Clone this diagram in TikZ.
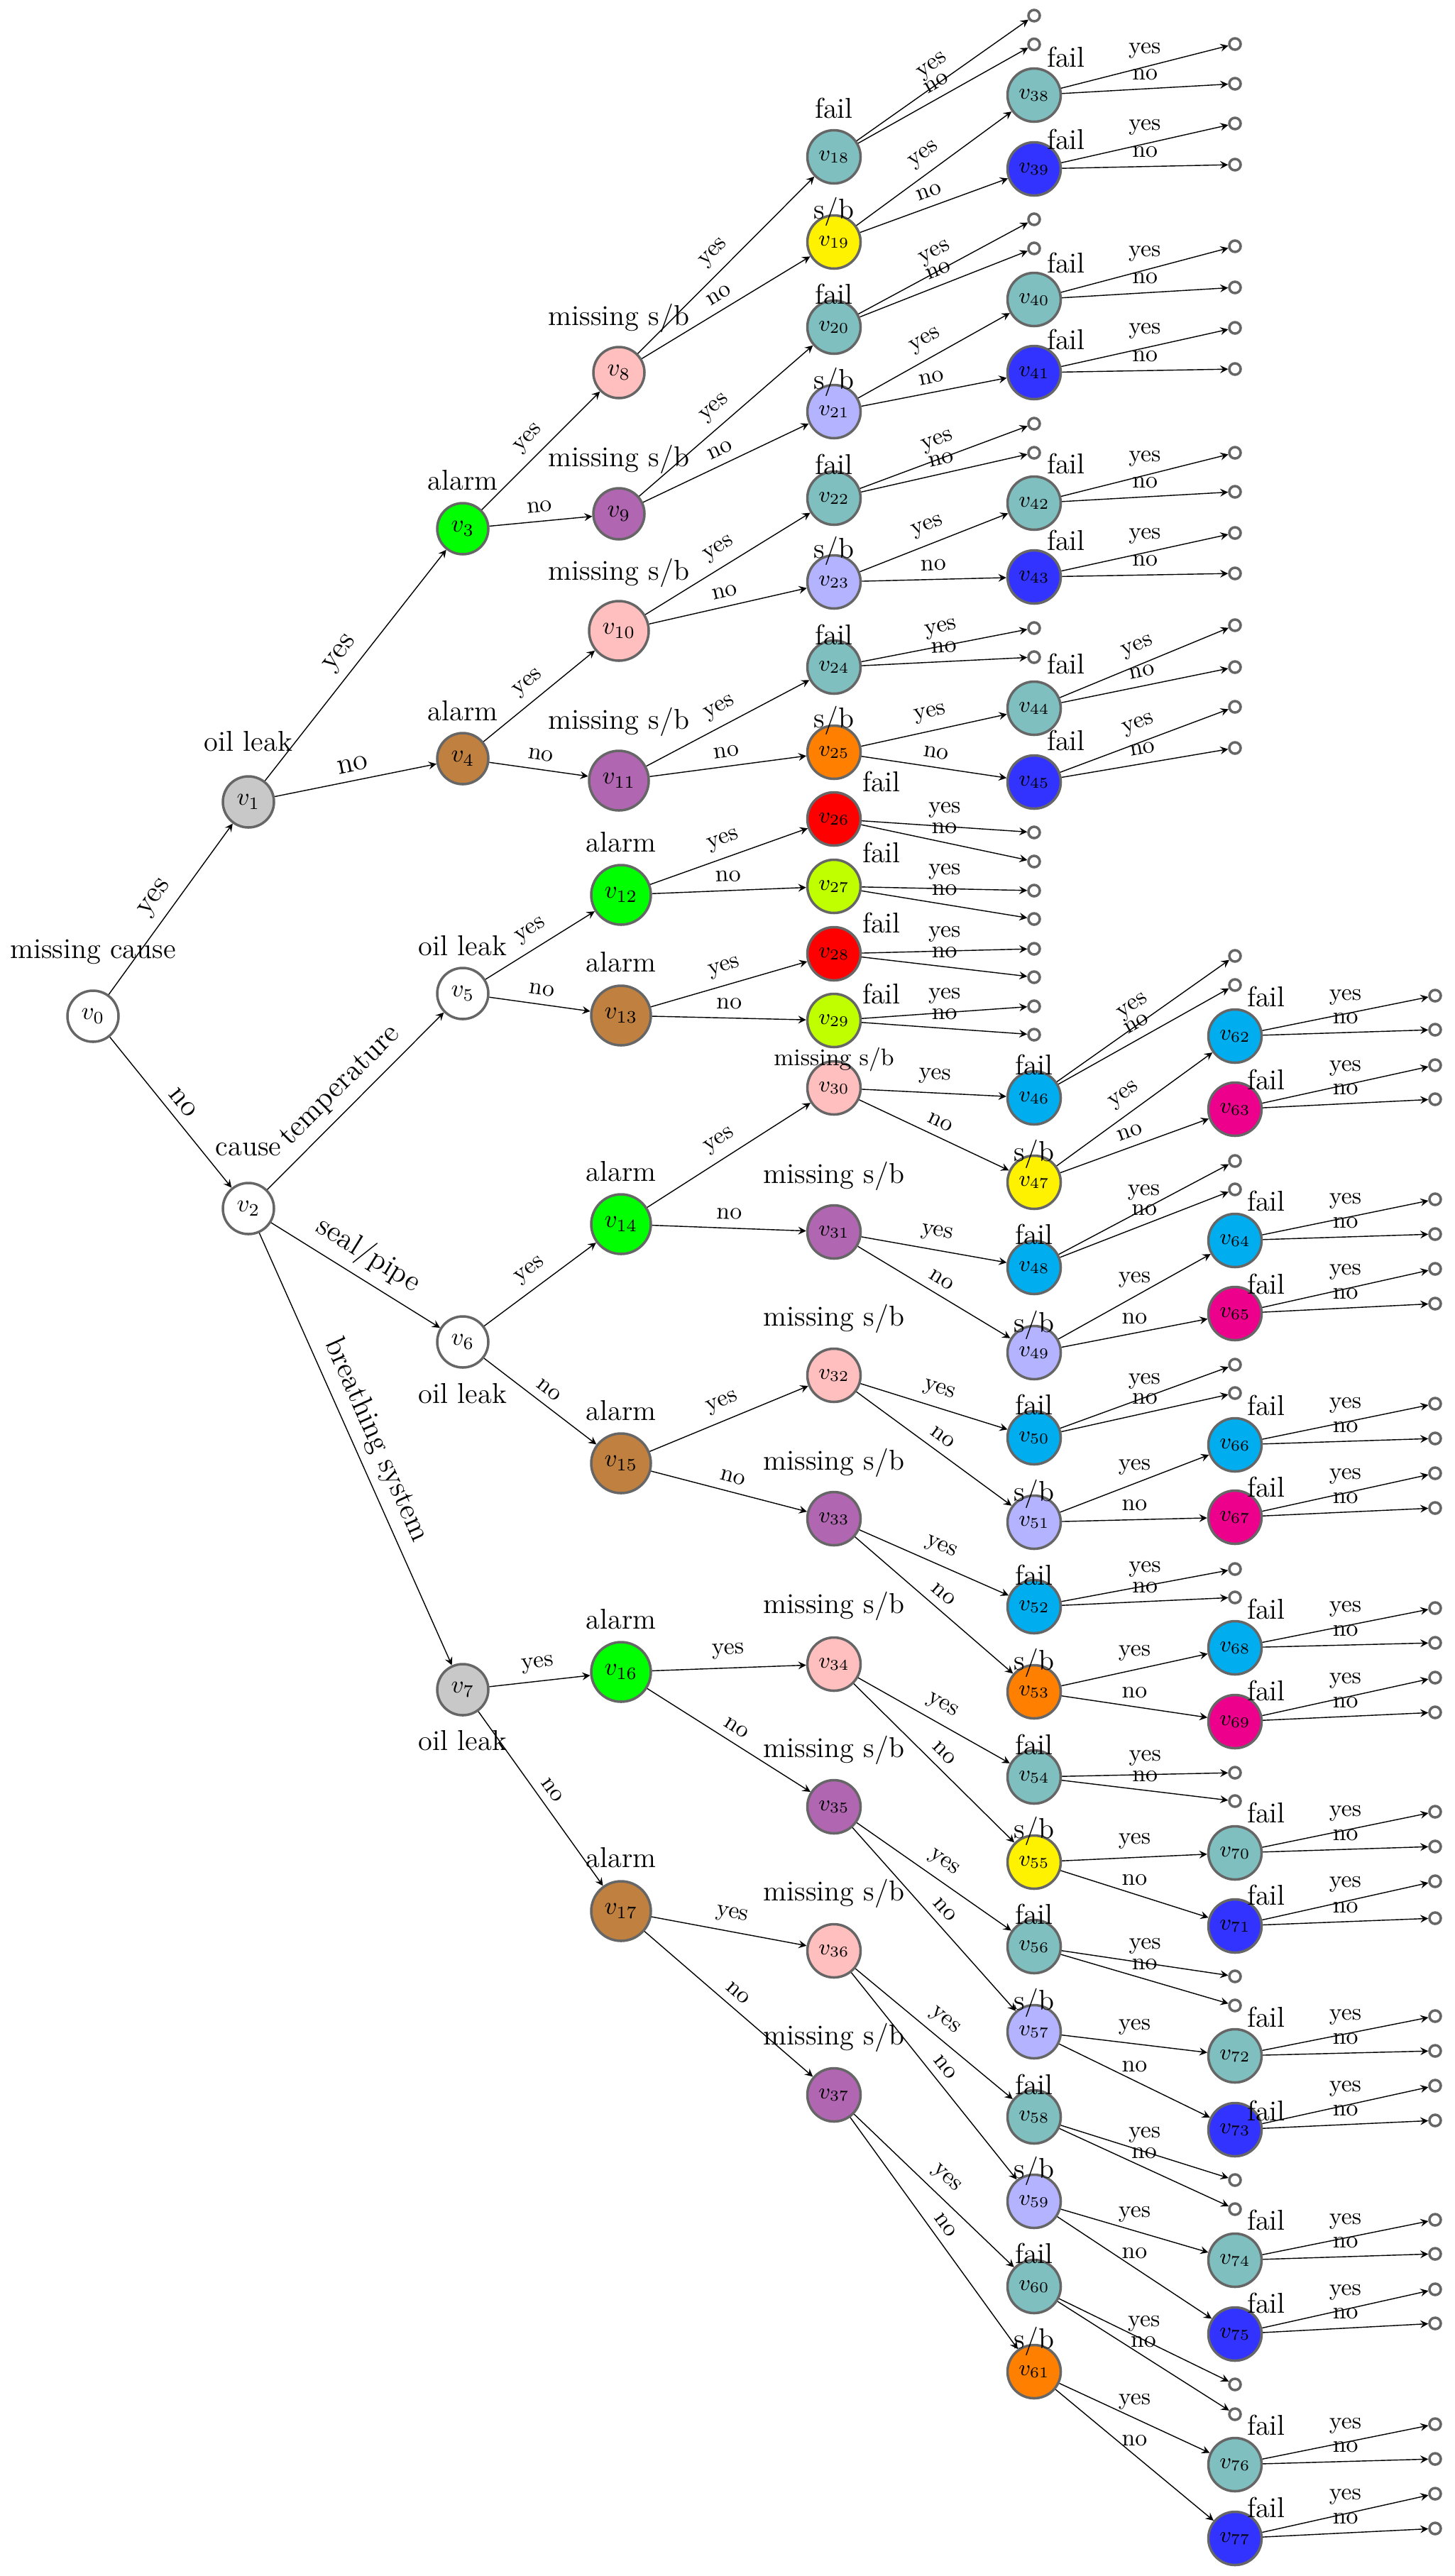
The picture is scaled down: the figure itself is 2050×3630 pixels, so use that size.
\documentclass[tikz,border=0pt]{standalone}
\usepackage{fontspec}
\usepackage{amsmath}
\usepackage{tikz}

\definecolor{cgray}{RGB}{200,200,200}
\definecolor{cgreen}{RGB}{0,255,0}
\definecolor{cbrown}{RGB}{191,128,64}
\definecolor{cpink}{RGB}{255,191,191}
\definecolor{cpurple}{RGB}{176,102,176}
\definecolor{cteal}{RGB}{128,191,191}
\definecolor{cyellow}{RGB}{255,242,0}
\definecolor{clav}{RGB}{179,179,255}
\definecolor{corange}{RGB}{255,128,0}
\definecolor{cred}{RGB}{255,0,0}
\definecolor{clime}{RGB}{191,255,0}
\definecolor{cblue}{RGB}{51,51,255}
\definecolor{ccyan}{RGB}{0,174,239}
\definecolor{cmag}{RGB}{236,0,140}

\begin{document}
\begin{tikzpicture}[
    x=0.1mm, y=-0.1mm,
    vtx/.style={circle, draw=black!60, line width=1pt, inner sep=0pt, minimum size=7.5mm, font=\fontsize{8.8}{10}\selectfont},
    vsmall/.style={minimum size=7.2mm, font=\fontsize{10}{12}\selectfont},
    vbig/.style={minimum size=8.4mm, font=\fontsize{10}{12}\selectfont},
    leaf/.style={circle, draw=black!60, line width=1pt, fill=white, inner sep=0pt, minimum size=1.6mm},
    ntag/.style={inner sep=1pt, font=\fontsize{11.5}{13}\selectfont},
    conn/.style={-stealth},
    elab/.style={above, font=\fontsize{9.6}{11}\selectfont},
    elabbig/.style={above, font=\fontsize{12}{14}\selectfont},
]
    \useasboundingbox (0,0) rectangle (2050,3630);
    \foreach \n/\x/\y/\c in {0/131/1432/white, 1/350/1130/cgray, 2/350/1703/white, 3/652/745/cgreen, 4/652/1069/cbrown,
        5/652/1400/white, 6/652/1891/white, 7/652/2381/cgray, 8/872/525/cpink, 9/872/724/cpurple}
        \node[vtx,vsmall,fill=\c] (v\n) at (\x,\y) {$v_{\n}$};
    \foreach \n/\x/\y/\c in {10/872/889/cpink, 11/872/1100/cpurple, 12/875/1261/cgreen, 13/875/1431/cbrown,
        14/875/1725/cgreen, 15/875/2062/cbrown, 16/875/2356/cgreen, 17/875/2693/cbrown}
        \node[vtx,vbig,fill=\c] (v\n) at (\x,\y) {$v_{\n}$};
    \foreach \n/\x/\y/\c in {18/1175/221/cteal, 19/1175/341/cyellow, 20/1175/461/cteal, 21/1175/580/clav,
        22/1175/702/cteal, 23/1175/820/clav, 24/1175/940/cteal, 25/1175/1060/corange, 26/1175/1154/cred,
        27/1175/1249/clime, 28/1175/1344/cred, 29/1175/1438/clime, 30/1175/1533/cpink, 31/1175/1736/cpurple,
        32/1175/1938/cpink, 33/1175/2140/cpurple, 34/1175/2345/cpink, 35/1175/2546/cpurple, 36/1175/2749/cpink,
        37/1175/2952/cpurple, 38/1457/134/cteal, 39/1457/238/cblue, 40/1457/422/cteal, 41/1457/525/cblue,
        42/1457/709/cteal, 43/1457/813/cblue, 44/1457/998/cteal, 45/1457/1102/cblue, 46/1457/1547/ccyan,
        47/1457/1666/cyellow, 48/1457/1786/ccyan, 49/1457/1906/clav, 50/1457/2026/ccyan, 51/1457/2145/clav,
        52/1457/2264/ccyan, 53/1457/2384/corange, 54/1457/2504/cteal, 55/1457/2624/cyellow, 56/1457/2743/cteal,
        57/1457/2863/clav, 58/1457/2983/cteal, 59/1457/3102/clav, 60/1457/3222/cteal, 61/1457/3342/corange,
        62/1740/1460/ccyan, 63/1740/1563/cmag, 64/1740/1748/ccyan, 65/1740/1851/cmag, 66/1740/2036/ccyan,
        67/1740/2138/cmag, 68/1740/2322/ccyan, 69/1740/2426/cmag, 70/1740/2611/cteal, 71/1740/2714/cblue,
        72/1740/2897/cteal, 73/1740/3001/cblue, 74/1740/3185/cteal, 75/1740/3289/cblue, 76/1740/3473/cteal,
        77/1740/3577/cblue}
        \node[vtx,fill=\c] (v\n) at (\x,\y) {$v_{\n}$};

    \node[ntag] (t0) at (131,1341) {missing cause};
    \node[ntag] (t2) at (350,1620) {cause};
    \foreach \n/\x/\y in {1/350/1045, 5/652/1333, 6/652/1964, 7/652/2453}
        \node[ntag] (t\n) at (\x,\y) {oil leak};
    \foreach \n/\x/\y in {3/652/677, 4/652/1002, 12/875/1187, 13/875/1356, 14/875/1651, 15/875/1988, 16/875/2282, 17/875/2618}
        \node[ntag] (t\n) at (\x,\y) {alarm};
    \foreach \n/\x/\y in {8/872/448, 9/872/647, 10/872/807, 11/872/1017, 31/1175/1657, 32/1175/1858,
        33/1175/2061, 34/1175/2263, 35/1175/2466, 36/1175/2668, 37/1175/2871}
        \node[ntag] (t\n) at (\x,\y) {missing s/b};
    \node[ntag,font=\fontsize{9.6}{11}\selectfont] (t30) at (1175,1493) {missing s/b};
    \foreach \n/\x/\y in {19/1175/298, 21/1175/538, 23/1175/776, 25/1175/1015, 47/1457/1626, 49/1457/1867,
        51/1457/2105, 53/1457/2343, 55/1457/2580, 57/1457/2822, 59/1457/3059, 61/1457/3299}
        \node[ntag] (t\n) at (\x,\y) {s/b};
    \foreach \n/\x/\y in {18/1175/152, 20/1175/414, 22/1175/654, 24/1175/894, 26/1242/1101, 27/1242/1201,
        28/1242/1300, 29/1242/1400, 38/1502/80, 39/1502/196, 40/1502/370, 41/1502/478, 42/1502/653,
        43/1502/761, 44/1502/935, 45/1502/1043, 46/1457/1500, 48/1457/1739, 50/1457/1979, 52/1457/2219,
        54/1457/2458, 56/1457/2697, 58/1457/2937, 60/1457/3175, 62/1784/1404, 63/1784/1521, 64/1784/1692,
        65/1784/1809, 66/1784/1980, 67/1784/2095, 68/1784/2267, 69/1784/2382, 70/1784/2554, 71/1784/2670,
        72/1784/2842, 73/1784/2974, 74/1784/3128, 75/1784/3245, 76/1784/3417, 77/1784/3533}
        \node[ntag] (t\n) at (\x,\y) {fail};

    \draw[conn] (v0) -- node[elabbig,sloped] {yes} (v1);
    \draw[conn] (v0) -- node[elabbig,sloped] {no} (v2);
    \draw[conn] (v1) -- node[elabbig,sloped] {yes} (v3);
    \draw[conn] (v1) -- node[elabbig,sloped] {no} (v4);
    \draw[conn] (v2) -- node[elabbig,sloped] {temperature} (v5);
    \draw[conn] (v2) -- node[elabbig,sloped] {seal/pipe} (v6);
    \draw[conn] (v2) -- node[elabbig,sloped] {breathing system} (v7);
    \foreach \p/\c in {3/8, 4/10, 5/12, 6/14, 7/16, 8/18, 9/20, 10/22, 11/24, 12/26, 13/28, 14/30, 15/32,
        16/34, 17/36, 19/38, 21/40, 23/42, 25/44, 30/46, 31/48, 32/50, 33/52, 34/54, 35/56, 36/58, 37/60, 47/62}{
        \pgfmathtruncatemacro\d{\c+1}
        \draw[conn] (v\p) -- node[elab,sloped] {yes} (v\c);
        \draw[conn] (v\p) -- node[elab,sloped] {no} (v\d);
    }
    \foreach \p/\c in {49/64, 51/66, 53/68, 55/70, 57/72, 59/74, 61/76}{
        \pgfmathtruncatemacro\d{\c+1}
        \draw[conn] (v\p) -- node[elab] {yes} (v\c);
        \draw[conn] (v\p) -- node[elab] {no} (v\d);
    }

    \foreach \n/\x/\a/\b in {18/1457/22/62.5, 20/1457/309/350, 22/1457/597/638, 24/1457/885/926,
        44/1740/881/940, 45/1740/996/1054, 46/1740/1347/1388}{
        \node[leaf] (y\n) at (\x,\a) {};
        \node[leaf] (n\n) at (\x,\b) {};
        \draw[conn] (v\n) -- node[elab,sloped] {yes} (y\n);
        \draw[conn] (v\n) -- node[elab,sloped] {no} (n\n);
    }
    \foreach \n/\x/\a/\b in {26/1457/1173/1214, 27/1457/1255/1295, 28/1457/1337/1377, 29/1457/1418/1458,
        38/1740/62/118, 39/1740/174/232, 40/1740/347/405, 41/1740/462/520, 42/1740/638/693, 43/1740/751/808,
        48/1740/1636/1676, 50/1740/1923/1963, 52/1740/2211/2251, 54/1740/2498/2538, 56/1740/2785/2826,
        58/1740/3072/3113, 60/1740/3360/3402, 62/2022/1403/1451, 63/2022/1501/1549, 64/2022/1690/1739,
        65/2022/1788/1837, 66/2022/1978/2027, 67/2022/2076/2125, 68/2022/2266/2315, 69/2022/2364/2413,
        70/2022/2553/2602, 71/2022/2651/2703, 72/2022/2841/2890, 73/2022/2939/2988, 74/2022/3128/3176,
        75/2022/3226/3274, 76/2022/3416/3465, 77/2022/3514/3563}{
        \node[leaf] (y\n) at (\x,\a) {};
        \node[leaf] (n\n) at (\x,\b) {};
        \draw[conn] (v\n) -- node[elab] {yes} (y\n);
        \draw[conn] (v\n) -- node[elab] {no} (n\n);
    }
\end{tikzpicture}
\end{document}
